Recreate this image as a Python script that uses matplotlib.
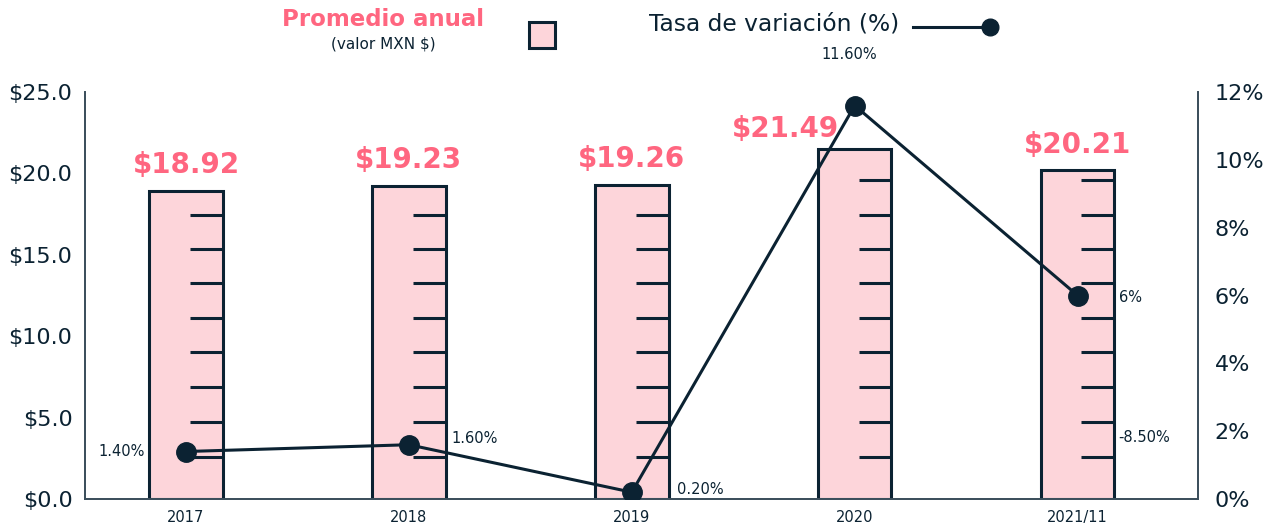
import matplotlib
matplotlib.use("Agg")
import matplotlib.pyplot as plt
from matplotlib.patches import Rectangle
from matplotlib.lines import Line2D

# ---- data ----
categories = ["2017", "2018", "2019", "2020", "2021/11"]
promedio = [18.92, 19.23, 19.26, 21.49, 20.21]
promedio_labels = ["$18.92", "$19.23", "$19.26", "$21.49", "$20.21"]
variacion = [1.4, 1.6, 0.2, 11.6, 6.0]
variacion_labels = ["1.40%", "1.60%", "0.20%", "11.60%", "6%"]
extra_label = "-8.50%"
extra_label_value = 1.8
ruler_ticks = [2.6, 4.75, 6.9, 9.0, 11.1, 13.25, 15.35, 17.45, 19.6]
left_ticks = [0, 5, 10, 15, 20, 25]
left_ticklabels = ["$0.0", "$5.0", "$10.0", "$15.0", "$20.0", "$25.0"]
right_ticks = [0, 2, 4, 6, 8, 10, 12]
right_ticklabels = ["0%", "2%", "4%", "6%", "8%", "10%", "12%"]

# ---- style ----
NAVY = "#0B2232"
PINK_TXT = "#FF6680"
PINK_FILL = "#FDD5DA"
SPINE = "#3C4F5C"
plt.rcParams["font.family"] = ["DejaVu Sans"]

W, H = 1276, 531
fig = plt.figure(figsize=(W / 100, H / 100), dpi=100)
ax = fig.add_axes([85 / W, 1 - 499 / H, (1198 - 85) / W, (499 - 92) / H])
ax2 = ax.twinx()

x = list(range(len(categories)))
bw = 0.33
ax.bar(x, promedio, width=bw, color=PINK_FILL, edgecolor=NAVY, linewidth=2.2, zorder=2)

tick_len = 33 / 223.0
for xi, v in zip(x, promedio):
    ts = [t for t in ruler_ticks if t < v]
    ax.hlines(ts, xi + bw / 2 - tick_len, xi + bw / 2, color=NAVY, linewidth=2.2, zorder=3)

label_offsets = [(0, 26), (0, 26), (0, 26), (-69, 20), (0, 25)]
for xi, v, lab, off in zip(x, promedio, promedio_labels, label_offsets):
    ax.annotate(lab, (xi, v), xytext=off, textcoords="offset pixels",
                ha="center", va="center", fontsize=20, fontweight="bold",
                color=PINK_TXT, zorder=5)

ax.set_xlim(-0.453, 4.54)
ax.set_ylim(0, 25)
ax.set_yticks(left_ticks)
ax.set_yticklabels(left_ticklabels, fontsize=16, color=NAVY)
ax.set_xticks(x)
ax.set_xticklabels(categories, fontsize=10.5, color=NAVY)
ax.tick_params(axis="both", length=0)
ax.tick_params(axis="y", pad=9)
ax.tick_params(axis="x", pad=8)

ax2.plot(x, variacion, color=NAVY, linewidth=2.2, marker="o", markersize=14, zorder=6)
ax2.set_ylim(0, 12)
ax2.set_yticks(right_ticks)
ax2.set_yticklabels(right_ticklabels, fontsize=16, color=NAVY)
ax2.tick_params(axis="y", length=0, pad=12)

var_offsets = [(-41, 0, "right"), (43, 6, "left"), (45, 3, "left"), (-5, 51, "center"), (41, -2, "left")]
for xi, v, lab, (dx, dy, ha) in zip(x, variacion, variacion_labels, var_offsets):
    ax2.annotate(lab, (xi, v), xytext=(dx, dy), textcoords="offset pixels",
                 ha=ha, va="center", fontsize=10.5, color=NAVY)
ax2.annotate(extra_label, (x[-1], extra_label_value), xytext=(41, 0), textcoords="offset pixels",
             ha="left", va="center", fontsize=10.5, color=NAVY)

for a in (ax, ax2):
    a.spines["top"].set_visible(False)
    for s in ("left", "right", "bottom"):
        a.spines[s].set_color(SPINE)
        a.spines[s].set_linewidth(1.3)

# ---- legend ----
fig.text(383 / W, 1 - 19 / H, "Promedio anual", ha="center", va="center",
         fontsize=16.5, fontweight="heavy", color=PINK_TXT)
fig.text(383 / W, 1 - 44 / H, "(valor MXN $)", ha="center", va="center",
         fontsize=11, color=NAVY)
fig.patches.append(Rectangle((529 / W, 1 - 48 / H), 26 / W, 26 / H, transform=fig.transFigure,
                             facecolor=PINK_FILL, edgecolor=NAVY, linewidth=2.2))
fig.text(774 / W, 1 - 24 / H, "Tasa de variación (%)", ha="center", va="center",
         fontsize=16.8, color=NAVY)
fig.lines.append(Line2D([913 / W, 990 / W], [1 - 27 / H, 1 - 27 / H], transform=fig.transFigure,
                        color=NAVY, linewidth=2.2))
fig.lines.append(Line2D([990 / W], [1 - 27 / H], transform=fig.transFigure,
                        color=NAVY, marker="o", markersize=12))

fig.savefig("out.png", dpi=100)
